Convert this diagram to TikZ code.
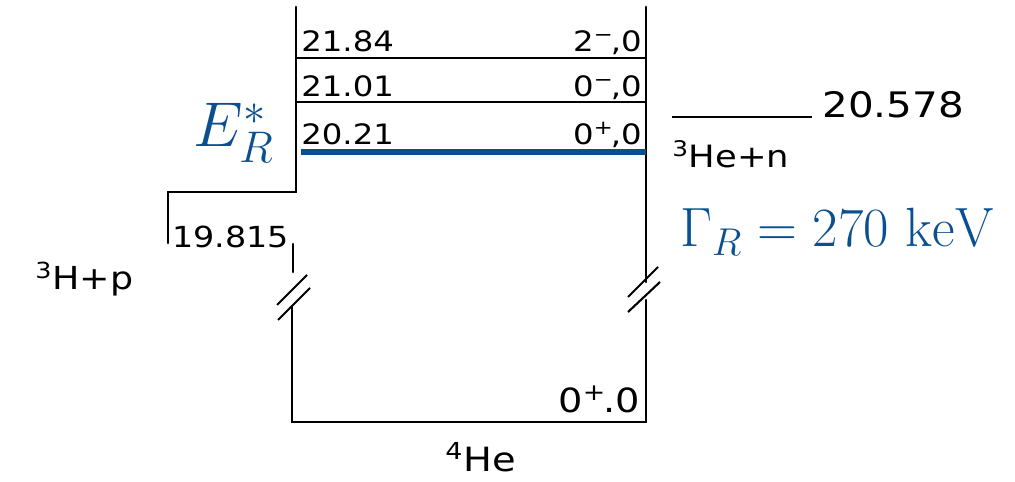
\RequirePackage{fix-cm}
\documentclass[tikz,border=0pt]{standalone}
\usepackage{fontspec}
\newfontfamily\lettering[FakeStretch=1.15]{DejaVu Sans}
\definecolor{resblue}{RGB}{10,80,145}
\begin{document}
\begin{tikzpicture}[x=0.02cm, y=-0.02cm,
    wall/.style={line width=1.5pt, line cap=round},
    lvl/.style={line width=1pt},
    brk/.style={line width=1.2pt},
    lab/.style={inner sep=0pt, font=\lettering\fontsize{16}{18}\selectfont},
    blab/.style={inner sep=0pt, text=resblue}]
    \useasboundingbox (0,0) rectangle (1015,482);
    % box corners
    \coordinate (tl) at (296,7);
    \coordinate (tr) at (646,7);
    \coordinate (step) at (296,192);
    \coordinate (stepl) at (168,192);
    \coordinate (stepd) at (168,243);
    \coordinate (ls) at (293,244);
    \coordinate (le) at (293,272);
    \coordinate (lb) at (292,307);
    \coordinate (bl) at (292,422);
    \coordinate (br) at (646,422);
    \coordinate (rb) at (646,300);
    \coordinate (re) at (646,282);
    % outline
    \draw[wall] (tl) -- (step) -- (stepl) -- (stepd);
    \draw[wall] (tr) -- (re);
    \draw[wall] (ls) -- (le);
    \draw[wall] (lb) -- (bl) -- (br) -- (rb);
    % break marks
    \draw[brk] (277,305) -- (307,275);
    \draw[brk] (278,320) -- (310,288);
    \draw[brk] (628,297) -- (658,267);
    \draw[brk] (628,312) -- (660,282);
    % levels
    \draw[lvl] (296,58) coordinate (a1) -- (646,58) coordinate (a2);
    \draw[lvl] (296,102) coordinate (b1) -- (646,102) coordinate (b2);
    \draw[resblue, line width=3.4pt] (301,152) coordinate (r1) -- (646,152) coordinate (r2);
    \draw[lvl, line width=1.3pt] (672,117) coordinate (n1) -- (812,117) coordinate (n2);
    % labels
    \node[lab, anchor=base west] (e1) at (301,52) {21.84};
    \node[lab, anchor=base east] (j1) at (642,52) {2\textsuperscript{−}\kern-0.1em,0};
    \node[lab, anchor=base west] (e2) at (301,97) {21.01};
    \node[lab, anchor=base east] (j2) at (642,97) {0\textsuperscript{−}\kern-0.1em,0};
    \node[lab, anchor=base west] (e3) at (301,145) {20.21};
    \node[lab, anchor=base east] (j3) at (642,145) {0\textsuperscript{+}\kern-0.1em,0};
    \node[blab, anchor=base east, font=\fontsize{36}{40}\selectfont] (er) at (274,147) {$E_R^*$};
    \node[lab, anchor=base west, font=\lettering\fontsize{20}{24}\selectfont] (thr) at (822,118) {20.578};
    \node[lab, anchor=base west, font=\lettering\fontsize{17.5}{20}\selectfont] (hen) at (672,168) {\textsuperscript{3}He+n};
    \node[blab, anchor=base west, font=\fontsize{31.5}{36}\selectfont] (gam) at (680,247) {$\Gamma_R = 270~\mathrm{keV}$};
    \node[lab, anchor=base west, font=\lettering\fontsize{16.5}{20}\selectfont] (thp) at (172,248) {19.815};
    \node[lab, anchor=base west, font=\lettering\fontsize{18}{20}\selectfont] (hp) at (35,290) {\textsuperscript{3}H+p};
    \node[lab, anchor=base east, font=\lettering\fontsize{19}{22}\selectfont] (gs) at (640,413) {0\textsuperscript{+}\kern-0.1em.0};
    \node[lab, anchor=base west, font=\lettering\fontsize{19}{22}\selectfont] (he4) at (445,472) {\textsuperscript{4}He};
\end{tikzpicture}
\end{document}
